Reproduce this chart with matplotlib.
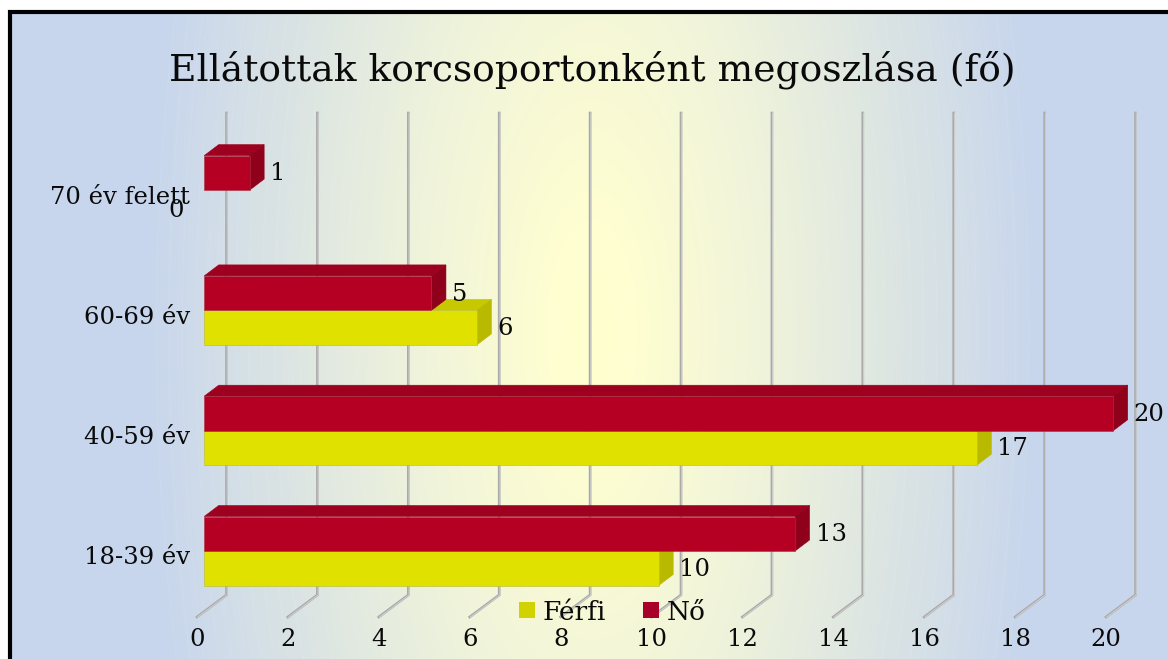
import numpy as np
import matplotlib
matplotlib.use("Agg")
import matplotlib.pyplot as plt
from matplotlib.colors import LinearSegmentedColormap
from matplotlib.patches import Polygon, Rectangle, Patch

categories = ["18-39 év", "40-59 év", "60-69 év", "70 év felett"]
ferfi = [10, 17, 6, 0]
no = [13, 20, 5, 1]
ticks = list(range(0, 21, 2))
title = "Ellátottak korcsoportonként megoszlása (fő)"

W, H = 1168, 659
UX = 45.45      # px per unit
UY = 120.3      # px per category
X0, Y0 = 197.0, 551.0

fig = plt.figure(figsize=(W/100, H/100), dpi=100, facecolor="white")
ax = fig.add_axes([0, 0, 1, 1])
ax.set_xlim(-X0/UX, (W-X0)/UX)
ax.set_ylim(-(H-Y0)/UY, Y0/UY)
ax.axis("off")
px = lambda p: p/UX
py = lambda p: p/UY
serif = "DejaVu Serif"
INK = "#0A0A0A"

# background
cmap = LinearSegmentedColormap.from_list("bg", [(0, "#FFFFCF"), (0.1, "#FEFED1"), (0.4, "#EFF3DB"),
                                                (0.7, "#DBE4E3"), (1, "#C8D6ED")])
xx, yy = np.meshgrid(np.arange(W), np.arange(H))
t = np.sqrt(((xx-592)/445.0)**2 + ((yy-330)/1100.0)**2).clip(0, 1)
ax.imshow(t, cmap=cmap, vmin=0, vmax=1, extent=(ax.get_xlim()[0], ax.get_xlim()[1], ax.get_ylim()[0], ax.get_ylim()[1]),
          origin="upper", aspect="auto", zorder=0, interpolation="bilinear")
ax.contour(np.linspace(ax.get_xlim()[0], ax.get_xlim()[1], W),
           np.linspace(ax.get_ylim()[1], ax.get_ylim()[0], H), t,
           levels=np.linspace(0.3, 0.98, 24), colors="white", linewidths=0.5, alpha=0.12, zorder=1)

# frame
ax.add_patch(Rectangle((px(9.5-X0), py(Y0-H-40)), px(W+60), py(H+28), fill=False, ec="black", lw=3, zorder=1.5))
ax.add_patch(Rectangle((ax.get_xlim()[0], ax.get_ylim()[1]-py(10)), px(W), py(10), fc="white", ec="none", zorder=1.4))
ax.add_patch(Rectangle((ax.get_xlim()[0], ax.get_ylim()[0]), px(8), py(H), fc="white", ec="none", zorder=1.4))

# walls
DX, DY = 29.5, 22.0
top_y = (Y0-113)/UY
for v in ticks:
    bx, by = v + px(DX), -(595-Y0)/UY
    fx, fy = v, -(617-Y0)/UY
    ax.plot([bx, bx, fx], [top_y, by, fy], color="#A9A9A9", lw=1.9, zorder=2, solid_joinstyle="miter")
    ax.plot([bx+px(0.7), bx+px(0.7), fx+px(0.7)], [top_y, by, fy], color="#D0D0D0", lw=0.7, zorder=2.1)
    ax.text(v, -(640-Y0)/UY, str(v), ha="center", va="center", family=serif, fontsize=17.5, color=INK, zorder=6)

# bars
BH = 34.5/UY
OFF = px(7.2)
DBX, DBY = px(14.5), py(11)


def bar(v, yc, face, top, side, edge):
    x0, x1 = OFF, OFF + v
    y0, y1 = yc - BH/2, yc + BH/2
    if v <= 0:
        return
    ax.add_patch(Polygon([(x0, y1), (x1, y1), (x1+DBX, y1+DBY), (x0+DBX, y1+DBY)], fc=top, ec=top, lw=0.4, zorder=3))
    ax.add_patch(Polygon([(x1, y0), (x1, y1), (x1+DBX, y1+DBY), (x1+DBX, y0+DBY)], fc=side, ec=side, lw=0.4, zorder=3))
    ax.add_patch(Rectangle((x0, y0), v, BH, fc=face, ec=edge, lw=0.4, zorder=3.2))


for i, (c, f, n) in enumerate(zip(categories, ferfi, no)):
    bar(f, i - BH/2, "#E1E100", "#C8C800", "#B9B900", "#B8B840")
    bar(n, i + BH/2, "#B50024", "#9E001F", "#8F001B", "#A8303F")
    ax.text(px(190-X0), i - py(7), c, ha="right", va="center", family=serif, fontsize=17.5, color=INK, zorder=6)
    for v, yc in ((f, i - BH/2), (n, i + BH/2)):
        if v > 0:
            ax.text(OFF + v + px(20.5), yc - py(1), str(v), ha="left", va="center", family=serif, fontsize=17.5, color=INK, zorder=6)
        else:
            ax.text(px(176-X0), yc - py(3), str(v), ha="center", va="center", family=serif, fontsize=17.5, color=INK, zorder=6)

ax.text(px(592.5-X0), py(Y0-70), title, ha="center", va="center", family=serif, fontsize=27.05, color=INK, zorder=6)

leg = ax.legend(handles=[Patch(fc="#D2D200", label="Férfi"), Patch(fc="#A80028", label="Nő")],
                loc="center", bbox_to_anchor=(612.5/W, 1-612/H), ncol=2, frameon=False,
                prop={"family": serif, "size": 19}, handlelength=0.58, handleheight=0.58,
                handletextpad=0.3, columnspacing=1.42, labelcolor=INK, borderpad=0)
leg.set_zorder(6)

fig.savefig("out.png", dpi=100)
